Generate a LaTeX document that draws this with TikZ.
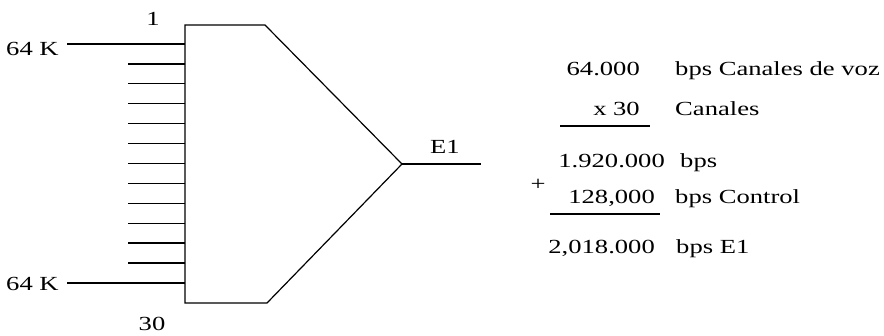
\documentclass[tikz,border=0pt]{standalone}
\usepackage{fontspec}
\setmainfont[FakeStretch=1.33]{Liberation Serif}
\begin{document}
\begin{tikzpicture}[x=1pt,y=-1pt,
  lbl/.style={font=\fontsize{20}{23}\selectfont, inner sep=0pt},
  wire/.style={line width=1.2pt, line cap=butt}]
\useasboundingbox (0,0) rectangle (884,335);
% multiplexer outline
\coordinate (tl) at (185,25);
\coordinate (tr) at (265,25);
\coordinate (apex) at (402,164);
\coordinate (br) at (267,303);
\coordinate (bl) at (185,303);
\draw[wire, line join=miter] (tl) -- (tr) -- (apex) -- (br) -- (bl) -- cycle;
% inputs
\node[lbl, anchor=base west] (inA) at (6,55) {64 K};
\node[lbl, anchor=base west] (inB) at (6,290) {64 K};
\coordinate (ea) at (185,44);
\coordinate (eb) at (185,283);
\draw[wire] (67,44) -- (ea);
\draw[wire] (67,283) -- (eb);
\foreach \i in {1,...,11} {
  \coordinate (s\i) at (128,{44+\i*19.9});
  \coordinate (e\i) at (185,{44+\i*19.9});
  \draw[wire] (s\i) -- (e\i);
}
\node[lbl, anchor=base] (one) at (153,25) {1};
\node[lbl, anchor=base] (thirty) at (152,330) {30};
% output
\coordinate (out) at (481,164);
\draw[wire] (apex) -- (out);
\node[lbl, anchor=base] (e1) at (445,153) {E1};
% arithmetic
\node[lbl, anchor=base east] (n1) at (640,75) {64.000};
\node[lbl, anchor=base west] (t1) at (675,75) {bps Canales de voz};
\node[lbl, anchor=base east] (n2) at (640,115) {x 30};
\node[lbl, anchor=base west] (t2) at (675,115) {Canales};
\coordinate (l1a) at (560,126);
\coordinate (l1b) at (650,126);
\draw[wire] (l1a) -- (l1b);
\node[lbl, anchor=base east] (n3) at (665,167) {1.920.000};
\node[lbl, anchor=base west] (t3) at (680,167) {bps};
\node[lbl, anchor=center] (plus) at (538,185) {+};
\node[lbl, anchor=base east] (n4) at (655,203) {128,000};
\node[lbl, anchor=base west] (t4) at (675,203) {bps Control};
\coordinate (l2a) at (550,214);
\coordinate (l2b) at (660,214);
\draw[wire] (l2a) -- (l2b);
\node[lbl, anchor=base east] (n5) at (655,253) {2,018.000};
\node[lbl, anchor=base west] (t5) at (676,253) {bps E1};
\end{tikzpicture}
\end{document}
